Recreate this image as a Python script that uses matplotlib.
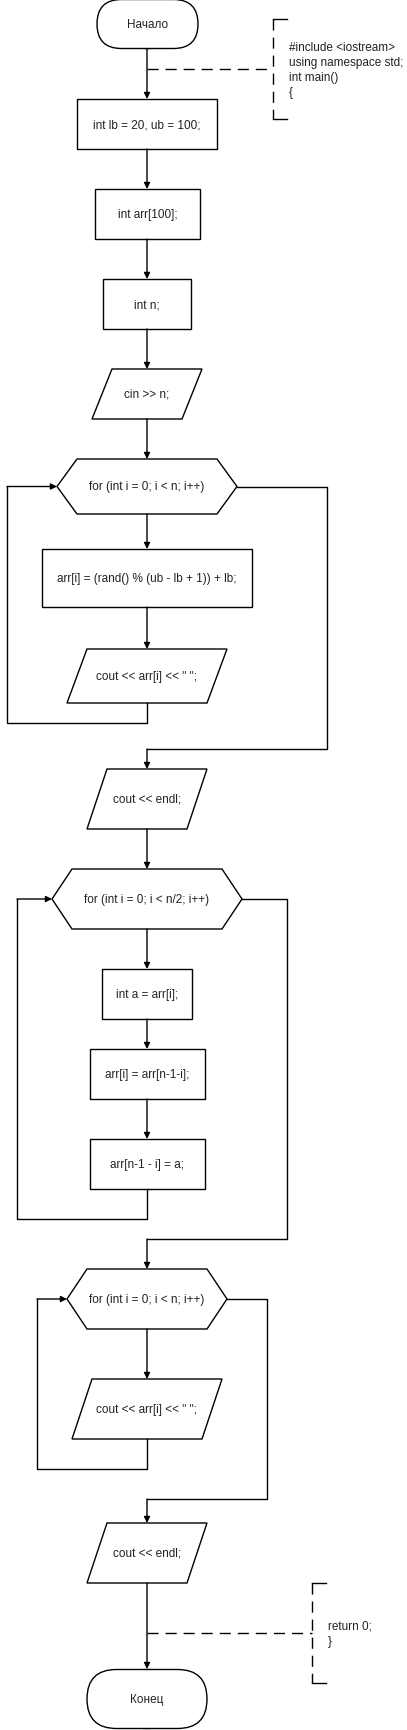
import matplotlib.pyplot as plt
from matplotlib.patches import Polygon, FancyBboxPatch

W, H = 407, 1731
CX = 147

# node: (label, kind, x0, x1, y0, y1)
labels = ["Начало", "int lb = 20, ub = 100;", "int arr[100];", "int n;", "cin >> n;",
          "for (int i = 0; i < n; i++)", "arr[i] = (rand() % (ub - lb + 1)) + lb;",
          "cout << arr[i] << \" \";", "cout << endl;", "for (int i = 0; i < n/2; i++)",
          "int a = arr[i];", "arr[i] = arr[n-1-i];", "arr[n-1 - i] = a;",
          "for (int i = 0; i < n; i++)", "cout << arr[i] << \" \";", "cout << endl;", "Конец"]
kinds = ["term", "rect", "rect", "rect", "para", "hex", "rect", "para", "para", "hex",
         "rect", "rect", "rect", "hex", "para", "para", "term"]
x0s = [97, 77, 95, 103, 92, 57, 42, 67, 87, 52, 102, 90, 90, 67, 72, 87, 87]
x1s = [198, 217, 200, 191, 202, 237, 252, 227, 207, 242, 192, 205, 205, 227, 222, 207, 207]
y0s = [0, 100, 190, 280, 370, 460, 550, 650, 770, 870, 970, 1050, 1140, 1270, 1380, 1524, 1670]
y1s = [50, 150, 240, 330, 420, 515, 608, 704, 830, 930, 1020, 1100, 1190, 1330, 1440, 1584, 1730]

# straight arrows between consecutive nodes (index pairs)
arrows = [(0, 1), (1, 2), (2, 3), (3, 4), (4, 5), (5, 6), (6, 7), (8, 9), (9, 10),
          (10, 11), (11, 12), (13, 14), (15, 16)]
# loops: (hex index, last body index, loop bottom y, left x, next node index, exit x, exit y)
loops = [(5, 7, 724, 7, 8, 327, 750),
         (9, 12, 1220, 17, 13, 287, 1240),
         (13, 14, 1470, 37, 15, 267, 1500)]

comments = [(["#include <iostream>", "using namespace std;", "int main()", "{"], 70, 273, 20, 120, 48),
            (["return 0;", "}"], 1634, 312, 1584, 1684, 1627)]

fig = plt.figure(figsize=(W / 100, H / 100), dpi=100)
ax = fig.add_axes([0, 0, 1, 1])
ax.set_xlim(0, W)
ax.set_ylim(H, 0)
ax.axis("off")

LW = 1.0
FONT = dict(family="Liberation Sans", fontsize=8.5, color="#222222")


def arrow(xa, ya, xb, yb):
    ax.annotate("", xy=(xb, yb), xytext=(xa, ya),
                arrowprops=dict(arrowstyle="-|>", color="black", lw=LW,
                                mutation_scale=9, shrinkA=0, shrinkB=0))


for lab, k, a, b, c, d in zip(labels, kinds, x0s, x1s, y0s, y1s):
    if k == "rect":
        pts = [(a, c), (b, c), (b, d), (a, d)]
    elif k == "para":
        s = 20
        pts = [(a + s, c), (b, c), (b - s, d), (a, d)]
    elif k == "hex":
        s = 20
        m = (c + d) / 2
        pts = [(a, m), (a + s, c), (b - s, c), (b, m), (b - s, d), (a + s, d)]
    if k == "term":
        r = (d - c) / 2
        ax.add_patch(FancyBboxPatch((a + r, c + 0.5), b - a - 2 * r, d - c - 1,
                                    boxstyle=f"round,pad=0,rounding_size={r}",
                                    fc="white", ec="black", lw=LW))
        ax.add_patch(FancyBboxPatch((a, c + 0.5), b - a, d - c - 1,
                                    boxstyle=f"round,pad=0,rounding_size={r - 0.5}",
                                    fc="white", ec="black", lw=LW))
    else:
        ax.add_patch(Polygon(pts, closed=True, fc="white", ec="black", lw=LW))
    ax.text((a + b) / 2, (c + d) / 2, lab, ha="center", va="center", **FONT)

for i, j in arrows:
    arrow(CX, y1s[i], CX, y0s[j])

for h, last, yb, xl, nxt, xr, ye in loops:
    m = (y0s[h] + y1s[h]) / 2
    ax.plot([CX, CX, xl, xl], [y1s[last], yb, yb, m], color="black", lw=LW)
    arrow(xl, m, x0s[h], m)
    ax.plot([x1s[h], xr, xr, CX], [m, m, ye, ye], color="black", lw=LW)
    arrow(CX, ye, CX, y0s[nxt])

for lines, yl, xb, yt, ybt, ytxt in comments:
    ax.plot([CX, xb], [yl, yl], color="black", lw=LW, dashes=(8, 5))
    ax.plot([xb, xb], [yt, ybt], color="black", lw=LW, dashes=(8, 5))
    ax.plot([xb, xb + 14], [yt, yt], color="black", lw=LW)
    ax.plot([xb, xb + 14], [ybt, ybt], color="black", lw=LW)
    for n, t in enumerate(lines):
        ax.text(xb + 16, ytxt + n * 15, t, ha="left", va="center", **FONT)

fig.savefig("out.png", dpi=100)
